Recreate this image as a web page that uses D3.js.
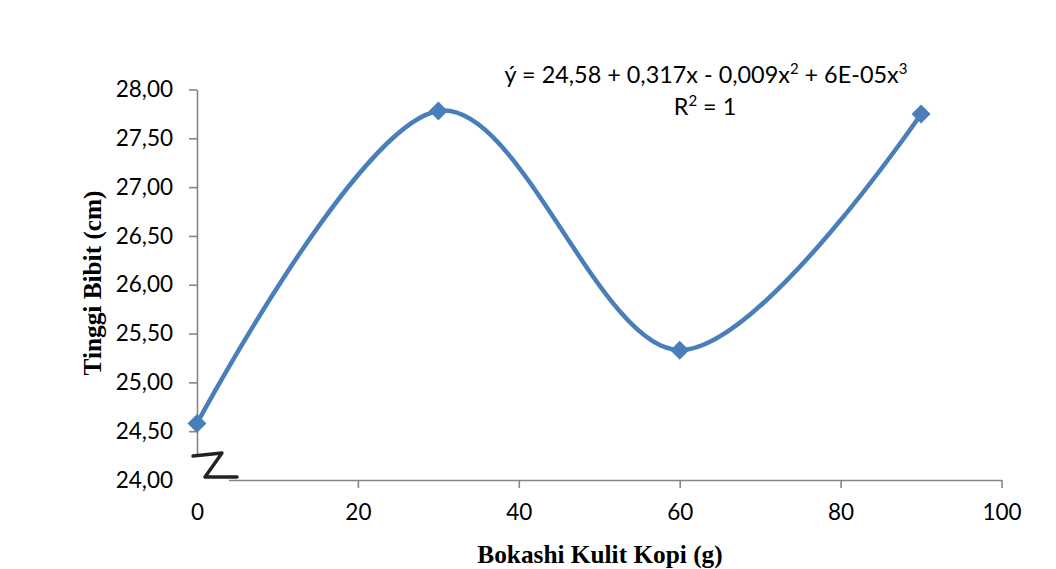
<!DOCTYPE html>
<html>
<head>
<meta charset="utf-8">
<script src="https://cdn.jsdelivr.net/npm/d3@7"></script>
<style>
  body { margin: 0; background: #fff; }
  svg { display: block; }
  .tick text { font-family: Lato, "Open Sans", sans-serif; font-size: 22.5px; fill: #000; }
  .axis-title { font-family: "Liberation Serif", "Times New Roman", serif; font-weight: bold; font-size: 25.3px; fill: #000; }
  .equation { font-family: Lato, "Open Sans", sans-serif; font-size: 23.4px; fill: #000; }
</style>
</head>
<body>
<svg id="chart"></svg>
<script>
const doses = [0, 30, 60, 90];
const heights = [24.58, 27.78, 25.33, 27.75];
const xTicks = [0, 20, 40, 60, 80, 100];
const yTicks = [24, 24.5, 25, 25.5, 26, 26.5, 27, 27.5, 28];

const W = 1056, H = 569;
const plotLeft = 197, plotRight = 1001.5, plotTop = 89.5, plotBottom = 480;

const svg = d3.select("#chart").attr("width", W).attr("height", H);

const x = d3.scaleLinear().domain([0, 100]).range([plotLeft, plotRight]);
const y = d3.scaleLinear().domain([24, 28]).range([plotBottom, plotTop]);

const locale = d3.formatLocale({ decimal: ",", thousands: ".", grouping: [3], currency: ["", ""] });
const fmt = locale.format(".2f");

const axisColor = "#868686";

const xAxis = svg.append("g")
  .attr("transform", `translate(0,${plotBottom})`)
  .call(d3.axisBottom(x).tickValues(xTicks).tickSize(8).tickPadding(16).tickSizeOuter(0));

const yAxis = svg.append("g")
  .attr("transform", `translate(${plotLeft},0)`)
  .call(d3.axisLeft(y).tickValues(yTicks).tickFormat(fmt).tickSize(8).tickPadding(16).tickSizeOuter(0));

[xAxis, yAxis].forEach(g => {
  g.select(".domain").attr("stroke", axisColor).attr("stroke-width", 1.6);
  g.selectAll(".tick line").attr("stroke", axisColor).attr("stroke-width", 1.6);
});

// axis break mark
const brk = svg.append("g");
brk.append("rect")
  .attr("x", plotLeft - 11).attr("y", 456).attr("width", 43).attr("height", 34)
  .attr("fill", "#fff");
brk.append("path")
  .attr("d", "M193,456 L222,453 L205,477 L237,477")
  .attr("fill", "none")
  .attr("stroke", "#222")
  .attr("stroke-width", 3.4)
  .attr("stroke-linejoin", "round")
  .attr("stroke-linecap", "round");

// smoothed line
const pts = doses.map((d, i) => [d, heights[i]]);
const line = d3.line()
  .x(d => x(d[0]))
  .y(d => y(d[1]))
  .curve(d3.curveCatmullRom.alpha(0));

svg.append("path")
  .datum(pts)
  .attr("d", line)
  .attr("fill", "none")
  .attr("stroke", "#4a7ebb")
  .attr("stroke-width", 4.5);

svg.selectAll(".marker")
  .data(pts)
  .enter()
  .append("path")
  .attr("class", "marker")
  .attr("d", d3.symbol().type(d3.symbolSquare).size(180))
  .attr("transform", d => `translate(${x(d[0])},${y(d[1])}) rotate(45)`)
  .attr("fill", "#4a7ebb");

// axis titles
svg.append("text")
  .attr("class", "axis-title")
  .attr("x", 600).attr("y", 563)
  .attr("text-anchor", "middle")
  .text("Bokashi Kulit Kopi (g)");

svg.append("text")
  .attr("class", "axis-title")
  .attr("transform", "translate(101,283) rotate(-90)")
  .attr("text-anchor", "middle")
  .text("Tinggi Bibit (cm)");

// trendline equation
const eq = svg.append("text").attr("class", "equation")
  .attr("x", 706).attr("y", 83).attr("text-anchor", "middle");
eq.append("tspan").text("ý = 24,58 + 0,317x - 0,009x");
eq.append("tspan").attr("font-size", 15).attr("dy", -9).text("2");
eq.append("tspan").attr("dy", 9).text(" + 6E-05x");
eq.append("tspan").attr("font-size", 15).attr("dy", -9).text("3");

const r2 = svg.append("text").attr("class", "equation")
  .attr("x", 705).attr("y", 115).attr("text-anchor", "middle");
r2.append("tspan").text("R");
r2.append("tspan").attr("font-size", 15).attr("dy", -9).text("2");
r2.append("tspan").attr("dy", 9).text(" = 1");
</script>
</body>
</html>
